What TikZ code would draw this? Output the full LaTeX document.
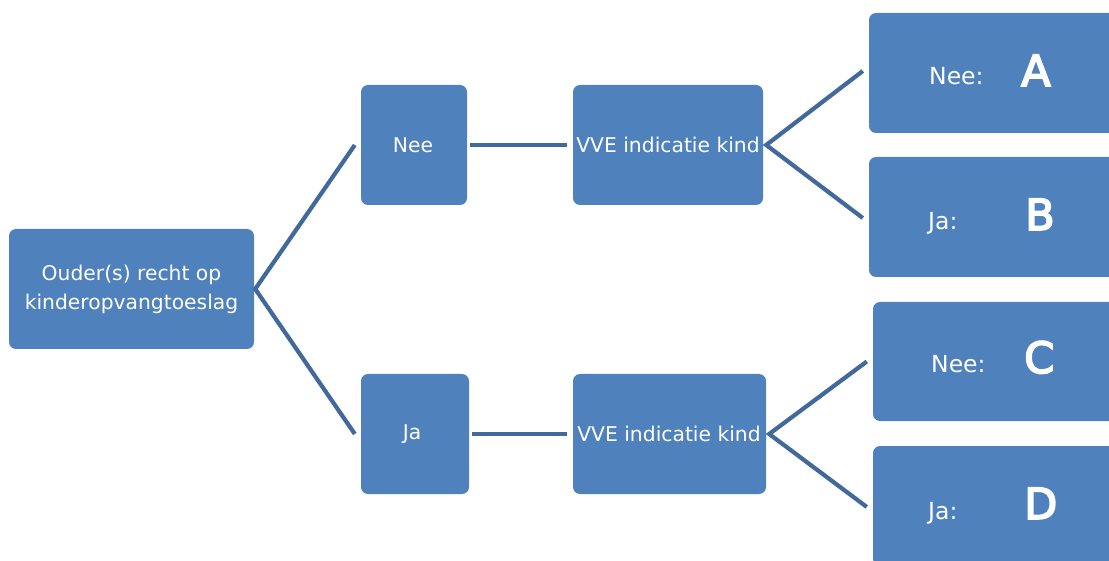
\documentclass[tikz,border=0pt]{standalone}
\usepackage{fontspec}
\setmainfont{DejaVu Sans}
\newfontfamily\letterfont[FakeBold=4]{DejaVu Sans}
\definecolor{boxblue}{HTML}{4F81BD}
\definecolor{lineblue}{HTML}{41699C}
\begin{document}
\begin{tikzpicture}[x=1pt,y=-1pt,
  box/.style={fill=boxblue,draw=none,rounded corners=7pt,inner sep=0pt},
  txt/.style={text=white,inner sep=0pt,font=\fontsize{20.3}{29}\selectfont,align=center},
  bigtxt/.style={text=white,inner sep=0pt,font=\fontsize{23.5}{28}\selectfont},
  lettr/.style={text=white,inner sep=0pt,font=\letterfont\fontsize{43}{43}\selectfont},
  conn/.style={draw=lineblue,line width=4.2pt}]
\useasboundingbox (0,0) rectangle (1109,561);
\clip (0,0) rectangle (1109,561);
% boxes
\node[box,minimum width=245pt,minimum height=120pt] (root) at (131.5,289) {};
\node[box,minimum width=106pt,minimum height=120pt] (nee) at (414,145) {};
\node[box,minimum width=108pt,minimum height=120pt] (ja) at (415,434) {};
\node[box,minimum width=190pt,minimum height=120pt] (vve1) at (668,145) {};
\node[box,minimum width=193pt,minimum height=120pt] (vve2) at (669.5,434) {};
\node[box,minimum width=270pt,minimum height=120pt] (bA) at (1004,73) {};
\node[box,minimum width=270pt,minimum height=120pt] (bB) at (1004,217) {};
\node[box,minimum width=270pt,minimum height=119pt] (bC) at (1008,361.5) {};
\node[box,minimum width=270pt,minimum height=120pt] (bD) at (1008,506) {};
% texts
\node[txt] (troot) at (131.5,289) {Ouder(s) recht op\\kinderopvangtoeslag};
\node[txt] (tnee) at (413,145) {Nee};
\node[txt] (tja) at (412,434) {Ja};
\node[txt] (tv1) at (668,145) {VVE indicatie kind};
\node[txt] (tv2) at (669,434) {VVE indicatie kind};
\node[bigtxt,anchor=base west] (tAn) at (929,85) {Nee:};
\node[lettr,anchor=base west] (tA) at (1021,86) {A};
\node[bigtxt,anchor=base west] (tBj) at (928,230) {Ja:};
\node[lettr,anchor=base west] (tB) at (1025,230) {B};
\node[bigtxt,anchor=base west] (tCn) at (931,373) {Nee:};
\node[lettr,anchor=base west] (tC) at (1024,373) {C};
\node[bigtxt,anchor=base west] (tDj) at (928,519) {Ja:};
\node[lettr,anchor=base west] (tD) at (1024,519) {D};
% connector endpoints
\coordinate (r0) at ([xshift=1pt]root.east);
\coordinate (n0) at ([xshift=-6pt]nee.west);
\coordinate (j0) at ([xshift=-6pt]ja.west);
\coordinate (v1a) at ([xshift=3pt]vve1.east);
\coordinate (v2a) at ([xshift=3pt]vve2.east);
\draw[conn] (n0) -- (r0) -- (j0);
\draw[conn] ([xshift=3pt]nee.east) -- ([xshift=-6pt]vve1.west);
\draw[conn] ([xshift=3pt]ja.east) -- ([xshift=-6pt]vve2.west);
\draw[conn] ([xshift=-6pt,yshift=2pt]bA.west) -- (v1a) -- ([xshift=-6pt,yshift=-1pt]bB.west);
\draw[conn] ([xshift=-6pt]bC.west) -- (v2a) -- ([xshift=-6pt,yshift=-1pt]bD.west);
\end{tikzpicture}
\end{document}
